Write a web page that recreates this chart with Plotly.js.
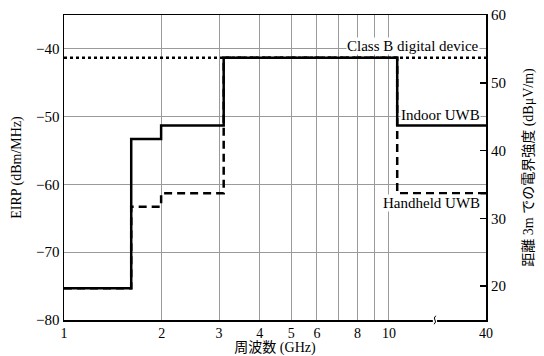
<!DOCTYPE html>
<html>
<head>
<meta charset="utf-8">
<script src="https://cdn.plot.ly/plotly-3.0.1.min.js"></script>
<style>html,body{margin:0;padding:0;background:#fff}#chart{width:544px;height:356px}</style>
</head>
<body>
<div id="chart"></div>
<script>
// ---- data (frequencies in GHz, levels in dBm/MHz) ----
var indoorFreq   = [1, 1.61, 1.61, 1.99, 1.99, 3.1, 3.1, 10.6, 10.6, 40];
var indoorEIRP   = [-75.3, -75.3, -53.3, -53.3, -51.3, -51.3, -41.3, -41.3, -51.3, -51.3];
var handFreq     = [1, 1.61, 1.61, 1.99, 1.99, 3.1, 3.1, 10.6, 10.6, 40];
var handEIRP     = [-75.3, -75.3, -63.3, -63.3, -61.3, -61.3, -41.3, -41.3, -61.3, -61.3];
var classBFreq   = [1, 40];
var classBEIRP   = [-41.3, -41.3];
var xTickVals    = [1, 2, 3, 4, 5, 6, 7, 8, 9, 10, 40];
var xTickText    = ['1', '2', '3', '4', '5', '6', '', '8', '', '10', '40'];
var leftTicks    = [-80, -70, -60, -50, -40];
var rightTicks   = [20, 30, 40, 50, 60];

// broken axis: above the break, log distance is compressed
var BREAK = 12, END_POS = 1.2985;
var K = (END_POS - Math.log10(BREAK)) / (Math.log10(40) - Math.log10(BREAK));
function bx(f) {
  if (f <= BREAK) return f;
  return Math.pow(10, Math.log10(BREAK) + (Math.log10(f) - Math.log10(BREAK)) * K);
}
function mapArr(a) { return a.map(bx); }

var serif = 'Liberation Serif, Times New Roman, Noto Sans CJK JP, serif';

var traces = [
  {x: mapArr(classBFreq), y: classBEIRP, mode: 'lines', line: {color: '#000', width: 2.5, dash: 'dot'}, hoverinfo: 'skip'},
  {x: mapArr(handFreq), y: handEIRP, mode: 'lines', line: {color: '#000', width: 2.5, dash: '8px,5px'}, hoverinfo: 'skip'},
  {x: mapArr(indoorFreq), y: indoorEIRP, mode: 'lines', line: {color: '#000', width: 2.5}, hoverinfo: 'skip'},
  {x: [bx(1)], y: [20], yaxis: 'y2', mode: 'markers', marker: {opacity: 0}, hoverinfo: 'skip'}
];

var layout = {
  width: 544, height: 356,
  margin: {l: 64, r: 58, t: 15, b: 36},
  paper_bgcolor: '#fff', plot_bgcolor: '#fff',
  showlegend: false,
  font: {family: serif, size: 15, color: '#000'},
  xaxis: {
    type: 'log', range: [0, END_POS],
    tickvals: mapArr(xTickVals), ticktext: xTickText,
    showgrid: true, gridcolor: '#9a9a9a', gridwidth: 1,
    ticks: '', showline: true, linecolor: '#000', linewidth: 1.5, mirror: true,
    zeroline: false,
    title: {text: '周波数 (GHz)', font: {family: serif, size: 14}, standoff: 3},
    tickfont: {family: serif, size: 14}
  },
  yaxis: {
    range: [-80, -35], tickvals: leftTicks,
    showgrid: true, gridcolor: '#9a9a9a', gridwidth: 1,
    ticks: '', showline: true, linecolor: '#000', linewidth: 1.5,
    zeroline: false,
    title: {text: 'EIRP (dBm/MHz)', font: {family: serif, size: 14}, standoff: 11},
    tickfont: {family: serif, size: 15}
  },
  yaxis2: {
    overlaying: 'y', side: 'right', range: [15, 60], tickvals: rightTicks,
    showgrid: false, ticks: 'inside', ticklen: 6, tickwidth: 1.5, tickcolor: '#000',
    showline: true, linecolor: '#000', linewidth: 2,
    zeroline: false,
    title: {text: '距離 3m での電界強度 (dBμV/m)', font: {family: serif, size: 14}, standoff: 18},
    tickfont: {family: serif, size: 15}
  },
  annotations: [
    {xref: 'paper', yref: 'y', x: 0.827, y: -39.55, xanchor: 'center', yanchor: 'middle', text: 'Class B digital device', showarrow: false, bgcolor: '#fff', borderpad: 0, font: {family: serif, size: 15}},
    {xref: 'paper', yref: 'y', x: 0.891, y: -49.8, xanchor: 'center', yanchor: 'middle', text: 'Indoor UWB', showarrow: false, bgcolor: '#fff', borderpad: 0, font: {family: serif, size: 15}},
    {xref: 'paper', yref: 'y', x: 0.870, y: -62.7, xanchor: 'center', yanchor: 'middle', text: 'Handheld UWB', showarrow: false, bgcolor: '#fff', borderpad: 0, font: {family: serif, size: 15}}
  ],
  shapes: [
    {type: 'rect', xref: 'paper', yref: 'paper', x0: 0.874, x1: 0.884, y0: -0.012, y1: 0.012, fillcolor: '#fff', line: {width: 0}, layer: 'above'},
    {type: 'path', xref: 'paper', yref: 'paper', layer: 'above',
     path: 'M 0.881 0.014 Q 0.875 0.006 0.879 0 Q 0.883 -0.006 0.877 -0.014',
     line: {color: '#000', width: 1}}
  ]
};

Plotly.newPlot('chart', traces, layout, {staticPlot: true});
</script>
</body>
</html>
